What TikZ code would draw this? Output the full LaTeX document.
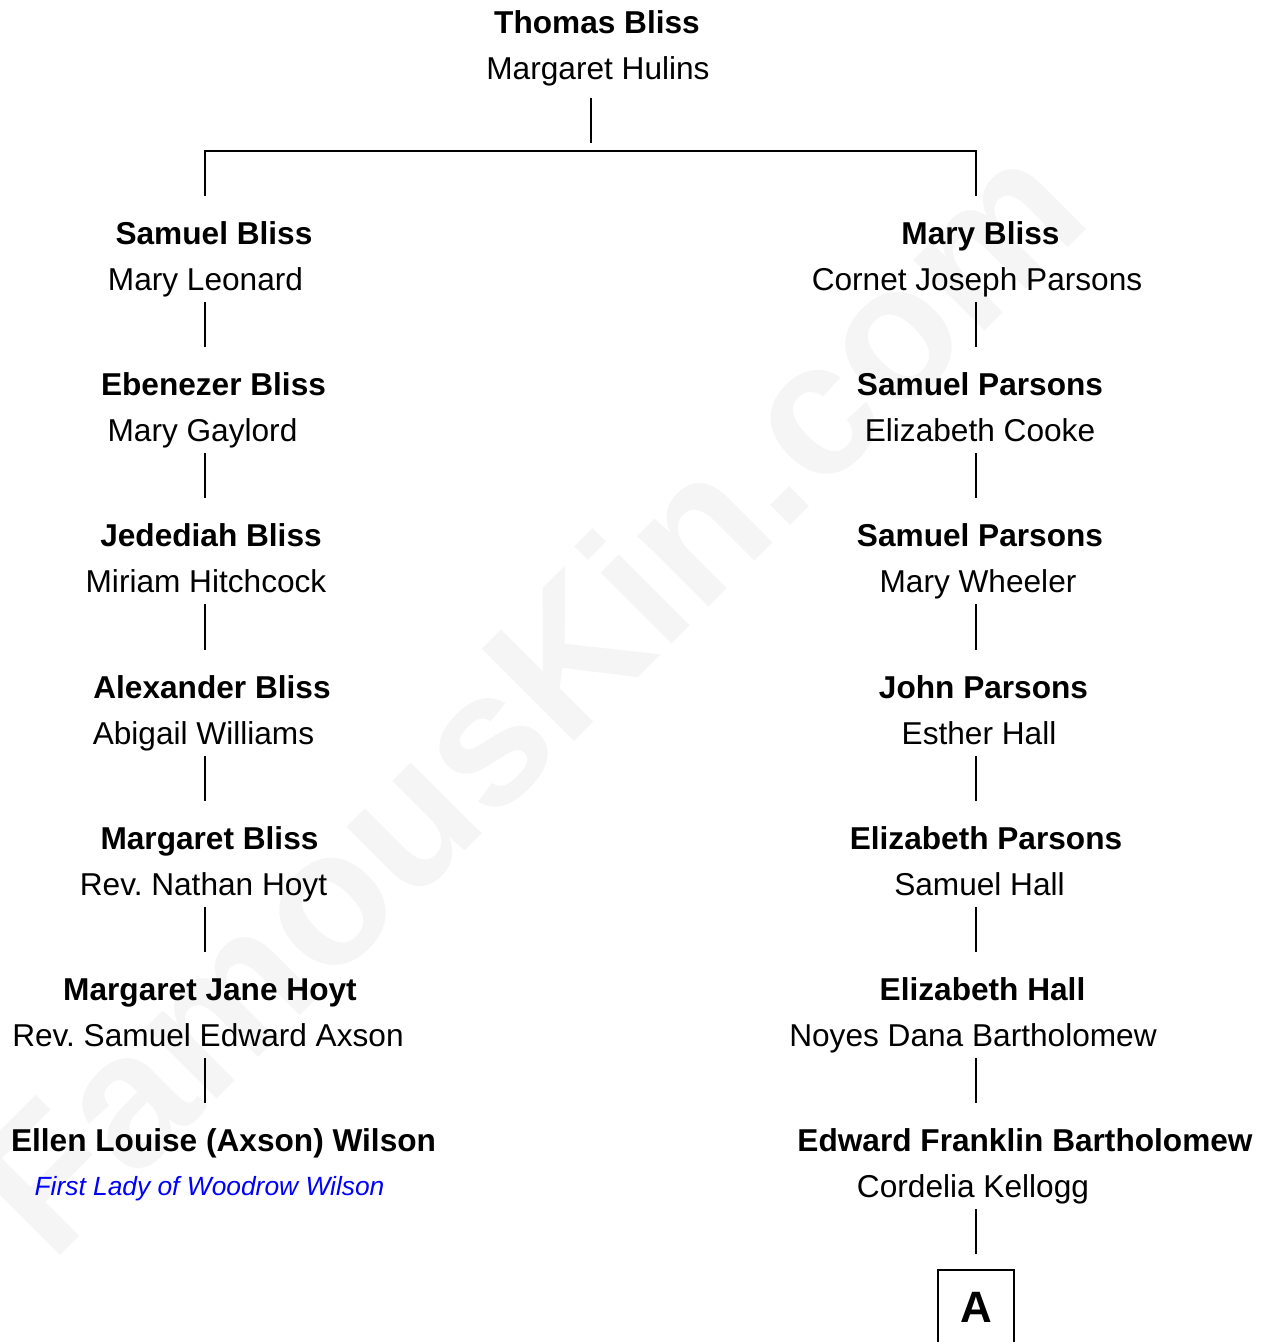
\documentclass[tikz,border=0pt]{standalone}
\usepackage{fontspec}
\setmainfont{Liberation Sans}
\frenchspacing

\definecolor{markgray}{HTML}{F5F5F5}
\definecolor{noteblue}{HTML}{0000FF}

\tikzset{
	ancestor/.style	= {font=\bfseries\fontsize{18}{20}\selectfont, inner sep=0pt, anchor=base, text height=0.96cm},
	spouse/.style	= {font=\fontsize{18}{20}\selectfont, inner sep=0pt, anchor=base, text depth=0.24cm},
	remark/.style	= {font=\itshape\fontsize{15}{17}\selectfont, text=noteblue, inner sep=0pt, anchor=base},
	link/.style		= {line width=0.8pt},
}

\begin{document}
\begin{tikzpicture}[x=0.02cm, y=-0.02cm]
	\useasboundingbox (0,0) rectangle (1269,1342);
	\clip (0,0) rectangle (1269,1342);

	% watermark
	\node[font=\bfseries\fontsize{108}{108}\selectfont, text=markgray, rotate=45, anchor=base west, inner sep=0pt] (mark) at (51,1265) {FamousKin.com};

	% top couple
	\node[ancestor]	(tb)	at (597,33)		{Thomas Bliss};
	\node[spouse]	(mh)	at (598,79)		{Margaret Hulins};

	\coordinate (split)	at (591,151);
	\coordinate (colL)	at (205,151);
	\coordinate (colR)	at (976,151);

	% Bliss line
	\node[ancestor]	(l1)	at (214,244)	{Samuel Bliss};
	\node[spouse]	(ls1)	at (205.5,290)	{Mary Leonard};
	\node[ancestor]	(l2)	at (213.5,395)	{Ebenezer Bliss};
	\node[spouse]	(ls2)	at (202.5,441)	{Mary Gaylord};
	\node[ancestor]	(l3)	at (211,546)	{Jedediah Bliss};
	\node[spouse]	(ls3)	at (206,592)	{Miriam Hitchcock};
	\node[ancestor]	(l4)	at (212,698)	{Alexander Bliss};
	\node[spouse]	(ls4)	at (203.5,744)	{Abigail Williams};
	\node[ancestor]	(l5)	at (209.5,849)	{Margaret Bliss};
	\node[spouse]	(ls5)	at (203.5,895)	{Rev. Nathan Hoyt};
	\node[ancestor]	(l6)	at (210,1000)	{Margaret Jane Hoyt};
	\node[spouse]	(ls6)	at (208,1046)	{Rev. Samuel Edward Axson};
	\node[ancestor]	(l7)	at (223.5,1151)	{Ellen Louise (Axson) Wilson};
	\node[remark]	(ls7)	at (209.5,1195)	{First Lady of Woodrow Wilson};

	% Parsons line
	\node[ancestor]	(r1)	at (980.5,244)	{Mary Bliss};
	\node[spouse]	(rs1)	at (977,290)	{Cornet Joseph Parsons};
	\node[ancestor]	(r2)	at (980,395)	{Samuel Parsons};
	\node[spouse]	(rs2)	at (980,441)	{Elizabeth Cooke};
	\node[ancestor]	(r3)	at (980,546)	{Samuel Parsons};
	\node[spouse]	(rs3)	at (978,592)	{Mary Wheeler};
	\node[ancestor]	(r4)	at (983.5,698)	{John Parsons};
	\node[spouse]	(rs4)	at (979,744)	{Esther Hall};
	\node[ancestor]	(r5)	at (986,849)	{Elizabeth Parsons};
	\node[spouse]	(rs5)	at (979.5,895)	{Samuel Hall};
	\node[ancestor]	(r6)	at (982.5,1000)	{Elizabeth Hall};
	\node[spouse]	(rs6)	at (973,1046)	{Noyes Dana Bartholomew};
	\node[ancestor]	(r7)	at (1025,1151)	{Edward Franklin Bartholomew};
	\node[spouse]	(rs7)	at (973,1197)	{Cordelia Kellogg};

	\node[draw, line width=0.8pt, font=\bfseries\fontsize{25}{25}\selectfont, inner sep=0pt,
		minimum width=1.52cm, text height=1.04cm, text depth=0.8cm, anchor=base] (A) at (976,1322) {A};

	\path[link] (mh.south -| split) edge [shorten <=0.14cm, shorten >=0.16cm] (split);
	\draw[link] (l1.north -| colL) -- (colL) -- (colR) -- (r1.north -| colR);

	\path[link]
	(ls1.south -| colL)	edge	(l2.north -| colL)
	(ls2.south -| colL)	edge	(l3.north -| colL)
	(ls3.south -| colL)	edge	(l4.north -| colL)
	(ls4.south -| colL)	edge	(l5.north -| colL)
	(ls5.south -| colL)	edge	(l6.north -| colL)
	(ls6.south -| colL)	edge	(l7.north -| colL)
	(rs1.south -| colR)	edge	(r2.north -| colR)
	(rs2.south -| colR)	edge	(r3.north -| colR)
	(rs3.south -| colR)	edge	(r4.north -| colR)
	(rs4.south -| colR)	edge	(r5.north -| colR)
	(rs5.south -| colR)	edge	(r6.north -| colR)
	(rs6.south -| colR)	edge	(r7.north -| colR)
	(rs7.south -| colR)	edge [shorten >=0.3cm]	(A.north)
;

\end{tikzpicture}
\end{document}
